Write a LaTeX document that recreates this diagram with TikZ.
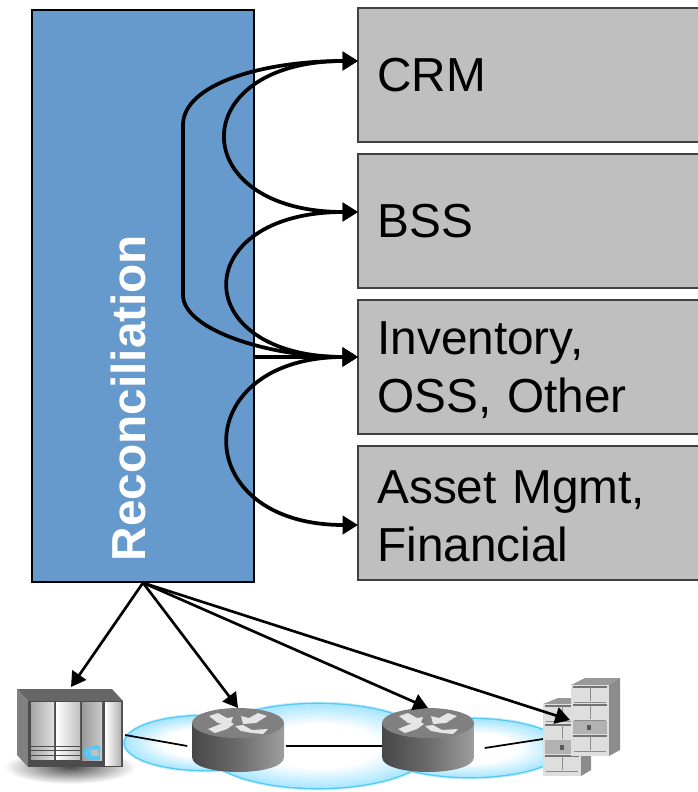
\documentclass[tikz,border=0pt]{standalone}
\usepackage{fontspec}
\setmainfont{Liberation Sans}
\usetikzlibrary{positioning, arrows.meta}

\definecolor{recblue}{HTML}{6699CC}
\definecolor{sysgray}{HTML}{BFBFBF}
\definecolor{cloudedge}{HTML}{55C8F5}
\definecolor{cloudfill}{HTML}{A8E6FF}
\definecolor{cloudhalo}{HTML}{C4EEFF}
\pgfdeclareradialshading{cloudglow}{\pgfpoint{0bp}{0bp}}{color(0bp)=(white); color(13bp)=(white); color(25bp)=(cloudfill); color(50bp)=(cloudfill)}

\tikzset{
    sysbox/.style={draw=black!75, line width=1.2pt, fill=sysgray, anchor=north west, align=left,
        text width=240pt, inner xsep=14.5pt, inner ysep=0pt, outer sep=0pt, minimum height=100.5pt,
        font=\fontsize{35.8}{43}\selectfont},
    hidden/.style={inner sep=0pt, outer sep=0pt},
    loopline/.style={line width=2.8pt, {Triangle[length=11.5pt,width=13.5pt]}-{Triangle[length=11.5pt,width=13.5pt]}},
    oneline/.style={line width=2.8pt, -{Triangle[length=11.5pt,width=13.5pt]}},
    mgmtline/.style={line width=2pt, -{Triangle[length=11pt,width=12.5pt]}},
    linkline/.style={line width=1.3pt},
    lobe/.style={shading=cloudglow},
    rim/.style={draw=cloudedge, line width=2pt},
    halo/.style={draw=cloudhalo, line width=3.5pt},
    sheet/.style={draw=black!45, line width=0.35pt},
    sheetbar/.style={draw=black!55, line width=0.9pt}
}

\begin{document}
\begin{tikzpicture}[x=0.75pt, y=-0.75pt]
\clip (0,0) rectangle (698,792);

%% place reconciliation and systems
\node[draw=black, line width=1.2pt, fill=recblue, minimum width=166.5pt, minimum height=429pt] (rec) at (143,296) {};
\node[rotate=90, text=white, font=\fontsize{35.8}{40}\selectfont\bfseries] (reclabel) at (128,398) {Reconciliation};

\node[sysbox] (crm) at (358,8) {CRM};
\node[sysbox, below=9pt of crm.south west, anchor=north west] (bss) {BSS};
\node[sysbox, below=9pt of bss.south west, anchor=north west] (inv) {\rule{0pt}{29.5pt}Inventory,\\OSS, Other};
\node[sysbox, below=9pt of inv.south west, anchor=north west] (asset) {\rule{0pt}{29.5pt}Asset Mgmt,\\Financial};

\coordinate (crmport) at (358,61);
\coordinate (bssport) at (358,212);
\coordinate (invport) at (358,357);
\coordinate (assetport) at (358,525);

% curves
\draw[loopline] (crmport) .. controls (184,61) and (184,212) .. (bssport);
\draw[loopline] (bssport) .. controls (187,212) and (187,357) .. (invport);
\draw[loopline] (invport) .. controls (187,357) and (187,525) .. (assetport);
\draw[loopline] (crmport) .. controls (260,61) and (183,85) .. (183,125) -- (183,295) .. controls (183,330) and (270,357) .. (invport);
\draw[oneline] (rec.east |- invport) -- (invport);

%% network cloud
\path[halo] (205,743) ellipse [x radius=80, y radius=27];
\path[halo] (470,748) ellipse [x radius=92, y radius=29];
\path[halo] (318,746) ellipse [x radius=115, y radius=42];
\path[rim] (205,743) ellipse [x radius=80, y radius=27];
\path[rim] (470,748) ellipse [x radius=92, y radius=29];
\path[rim] (318,746) ellipse [x radius=115, y radius=42];
\path[lobe] (205,743) ellipse [x radius=80, y radius=27];
\path[lobe] (470,748) ellipse [x radius=92, y radius=29];
\path[lobe] (318,746) ellipse [x radius=115, y radius=42];

% equipment anchors
\node[hidden, minimum width=81pt, minimum height=72pt] (store) at (71,735) {};
\node[hidden, minimum width=72pt, minimum height=57pt] (routera) at (238,746) {};
\node[hidden, minimum width=69pt, minimum height=57pt] (routerb) at (428,746) {};
\coordinate (filesport) at (543,739);
\coordinate (filestip) at (570,720);

% links
\draw[linkline] (store.east) -- ([xshift=-2]routera.west);
\draw[linkline] (routera.east) -- (routerb.west);
\draw[linkline] ([xshift=8]routerb.east |- 0,748) -- (filesport);

% routers
\foreach \rx in {238, 428} {
\begin{scope}[shift={(\rx,0)}]
    \shade[left color=black!72, right color=black!38, middle color=black!58]
        (-46,723) -- (-46,757) .. controls (-46,777) and (46,777) .. (46,757) -- (46,723) -- cycle;
    \fill[black!50] (0,723) ellipse [x radius=46, y radius=15];
    \fill[white!90!black] (-29,716) -- (-20,713) -- (-11,718) -- (-5,717) -- (-8,725) -- (-20,723) -- cycle;
    \fill[white!90!black] (29,716) -- (20,713) -- (11,718) -- (3,716) -- (5,724) -- (18,723) -- cycle;
    \fill[white!90!black] (-30,729) -- (-15,723) -- (-10,720) -- (-4,724) -- (-11,729) -- (-23,733) -- cycle;
    \fill[white!90!black] (30,729) -- (14,730) -- (5,725) -- (-3,726) -- (3,731) -- (14,733) -- (25,734) -- cycle;
\end{scope}
}

% storage cabinet
\shade[inner color=black!70, outer color=white] (70,767) ellipse [x radius=66, y radius=17];
\fill[black!60] (17,689) -- (112,689) -- (123,701) -- (28,701) -- cycle;
\fill[black!50] (17,689) -- (28,701) -- (28,767) -- (17,755) -- cycle;
\fill[black!70] (28,701) rectangle (123,767);
\shade[left color=black!35, right color=black!12] (31,702) rectangle (54,760);
\shade[left color=white, right color=black!25] (56,702) rectangle (80,760);
\shade[left color=black!40, right color=black!20] (82,702) rectangle (102,760);
\shade[left color=white, right color=black!30] (105,702) rectangle (121,765);
\foreach \sy in {746, 750, 755, 760} {
    \draw[black!70, line width=0.7pt] (31,\sy) -- (80,\sy);
}
\fill[cloudedge] (84,749) -- (96,745) -- (100,746) -- (100,760) -- (90,760) -- (84,755) -- cycle;
\fill[black!25] (90,750) -- (98,749) -- (99,756) -- (92,756) -- cycle;

% file servers, left one behind
\fill[black!40] (543,704) -- (558,698) -- (596,698) -- (581,704) -- cycle;
\fill[black!45] (581,704) -- (591,698) -- (591,770) -- (581,776) -- cycle;
\fill[black!13] (543,704) rectangle (581,776);
\foreach \ty in {706, 725, 756} {
    \draw[sheetbar] (545,\ty) -- (579,\ty);
    \draw[sheet] (562,\ty) -- (562,\ty+14);
    \draw[sheet] (546,\ty+15) -- (578,\ty+15);
}
\fill[black!30] (545,740) rectangle (579,754);
\fill[black!65] (560,745) rectangle (564,750);

\fill[black!40] (571,685) -- (585,678) -- (620,678) -- (609,685) -- cycle;
\fill[black!45] (609,685) -- (620,678) -- (620,750) -- (609,756) -- cycle;
\fill[black!13] (571,685) rectangle (609,756);
\foreach \ty in {687, 705, 736} {
    \draw[sheetbar] (573,\ty) -- (607,\ty);
    \draw[sheet] (590,\ty) -- (590,\ty+14);
    \draw[sheet] (574,\ty+15) -- (606,\ty+15);
}
\fill[black!30] (573,721) rectangle (607,734);
\fill[black!65] (587,725) rectangle (591,730);

%% management arrows
\draw[mgmtline] (rec.south) -- (store.north);
\draw[mgmtline] (rec.south) -- (routera.north);
\draw[mgmtline] (rec.south) -- (routerb.north);
\draw[mgmtline] (rec.south) -- (filestip);

\end{tikzpicture}
\end{document}
